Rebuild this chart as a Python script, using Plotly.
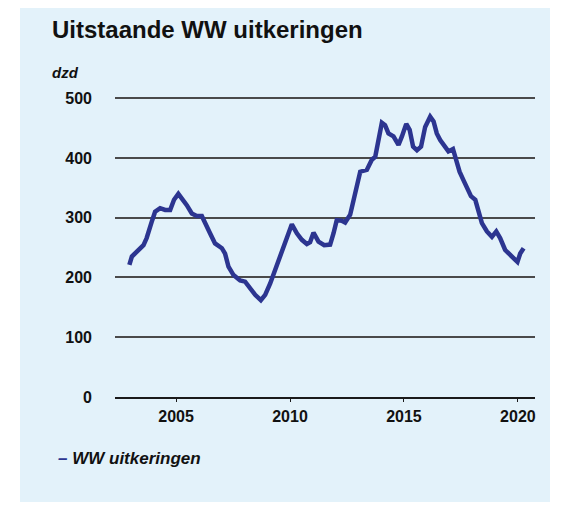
import plotly.graph_objects as go

# Decimal year of each observation and the number of outstanding WW benefits (thousands)
years = [2002.95, 2003.06, 2003.57, 2003.71, 2003.93, 2004.08, 2004.30, 2004.52, 2004.74, 2004.91,
         2005.10, 2005.25, 2005.47, 2005.69, 2005.91, 2006.13, 2006.27, 2006.49, 2006.71, 2007.01,
         2007.15, 2007.30, 2007.52, 2007.81, 2008.03, 2008.25, 2008.47, 2008.72, 2008.91, 2009.13,
         2009.35, 2009.57, 2009.78, 2009.93, 2010.08, 2010.30, 2010.52, 2010.74, 2010.88, 2011.03,
         2011.25, 2011.50, 2011.76, 2011.91, 2012.05, 2012.27, 2012.42, 2012.64, 2012.78, 2012.93,
         2013.08, 2013.37, 2013.59, 2013.74, 2013.88, 2014.03, 2014.17, 2014.32, 2014.54, 2014.76,
         2014.91, 2015.10, 2015.25, 2015.40, 2015.57, 2015.75, 2015.93, 2016.15, 2016.30, 2016.44,
         2016.59, 2016.81, 2016.95, 2017.15, 2017.29, 2017.44, 2017.61, 2017.76, 2017.94, 2018.13,
         2018.27, 2018.42, 2018.64, 2018.86, 2019.05, 2019.22, 2019.44, 2019.66, 2019.88, 2019.98,
         2020.10, 2020.25]
ww_uitkeringen = [221, 235, 254, 266, 293, 310, 316, 313, 313, 330,
                  340, 333, 321, 307, 303, 303, 293, 274, 257, 249,
                  240, 218, 204, 195, 193, 182, 171, 162, 171, 190,
                  213, 235, 257, 274, 289, 274, 263, 256, 259, 275,
                  260, 254, 255, 274, 296, 295, 292, 305, 330, 358,
                  377, 380, 397, 402, 430, 459, 455, 441, 436, 422,
                  436, 457, 447, 419, 413, 419, 452, 469, 461, 441,
                  430, 419, 411, 415, 397, 377, 363, 349, 336, 330,
                  313, 291, 277, 268, 277, 266, 246, 238, 232, 226,
                  240, 249]

x_ticks = [2005, 2010, 2015, 2020]
y_ticks = [0, 100, 200, 300, 400, 500]

title_text = "Uitstaande WW uitkeringen"
unit_text = "dzd"
series_name = "WW uitkeringen"

# the page has an 8px body margin, so the figure is drawn 8px smaller and shifted
OFF = 8
W, H = 563 - OFF, 511 - OFF
L, R, T, B = 115 - OFF, 28, 97 - OFF, 114
PW, PH = W - L - R, H - T - B
line_color = "#2c3590"
bg_color = "#e3f2fa"
font_family = "Liberation Sans, Arial, sans-serif"


def px(x):
    # x in reference-image pixels -> paper coords
    return (x - OFF - L) / PW


def py(y):
    # y in reference-image pixels -> paper coords
    return (H - B - (y - OFF)) / PH


fig = go.Figure()
fig.add_trace(go.Scatter(
    x=years, y=ww_uitkeringen, mode="lines", name=series_name,
    line=dict(color=line_color, width=4.5),
    showlegend=False,
))

# light blue panel
fig.add_shape(type="rect", xref="paper", yref="paper", layer="below",
              x0=px(20), x1=px(550), y0=py(502), y1=py(0),
              fillcolor=bg_color, line=dict(width=0))

fig.update_layout(
    width=W, height=H,
    margin=dict(l=L, r=R, t=T, b=B),
    paper_bgcolor="white",
    plot_bgcolor="rgba(0,0,0,0)",
    font=dict(family=font_family, color="#111111"),
    annotations=[
        dict(text=f"<b>{title_text}</b>", xref="paper", yref="paper",
             x=px(50), y=py(30), xanchor="left", yanchor="middle",
             showarrow=False, font=dict(size=24, color="#111111")),
        dict(text=unit_text, xref="paper", yref="paper",
             x=px(50), y=py(72), xanchor="left", yanchor="middle",
             showarrow=False, font=dict(size=15, weight="bold", style="italic", color="#111111")),
        dict(text=f"<span style='color:{line_color}'>–</span> {series_name}",
             xref="paper", yref="paper",
             x=px(56), y=py(459), xanchor="left", yanchor="middle",
             showarrow=False, font=dict(size=17, weight="bold", style="italic", color="#111111")),
    ],
    xaxis=dict(
        range=[2002.32, 2020.75], tickvals=x_ticks, ticktext=[str(t) for t in x_ticks],
        showgrid=False, zeroline=False,
        showline=True, linecolor="#1a1a1a", linewidth=2,
        ticks="outside", ticklen=3, tickwidth=1, tickcolor="#1a1a1a",
        tickfont=dict(size=16, weight="bold", color="#111111"),
        ticklabelstandoff=1,
    ),
    yaxis=dict(
        range=[0, 502], tickvals=y_ticks, ticktext=[str(t) for t in y_ticks],
        showgrid=True, gridcolor="#4a4a4a", gridwidth=1.6,
        zeroline=False, showline=False, ticks="",
        tickfont=dict(size=16, weight="bold", color="#111111"),
        ticklabelstandoff=22,
    ),
)

fig.write_html("out.html")
